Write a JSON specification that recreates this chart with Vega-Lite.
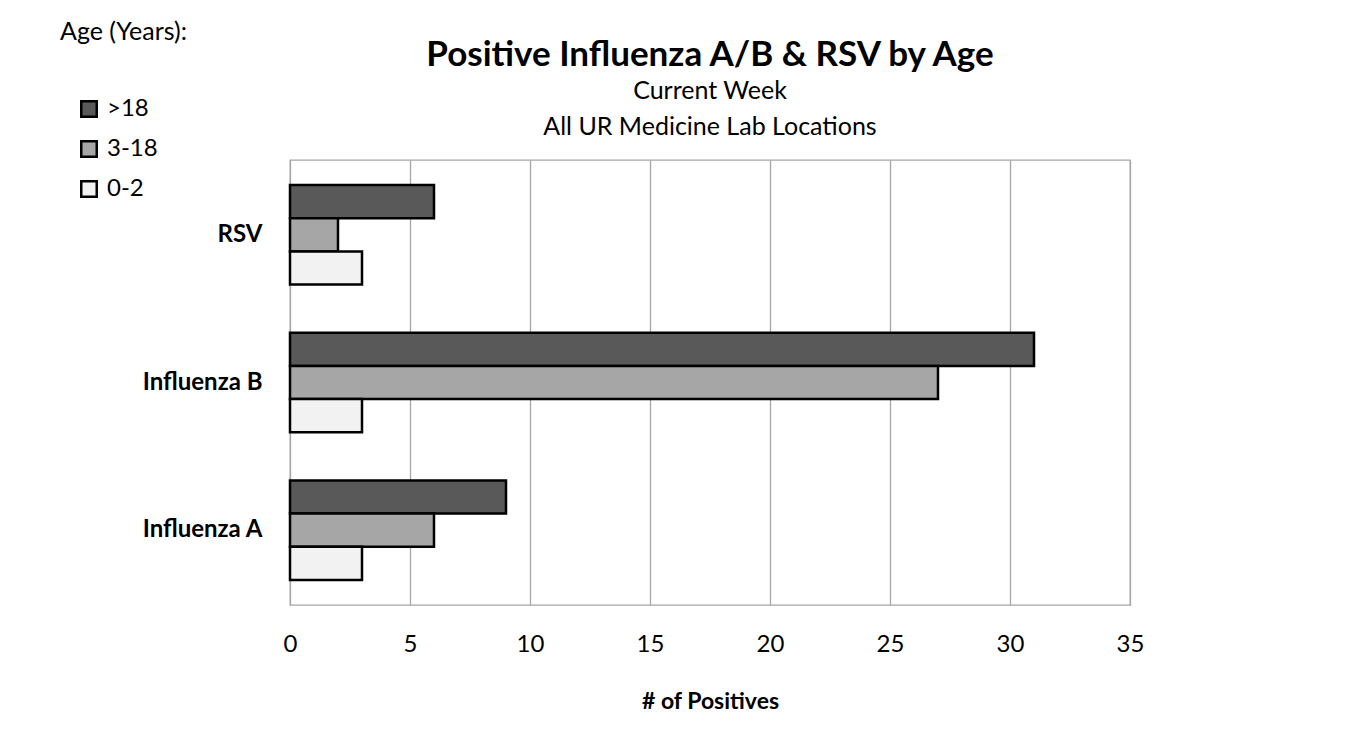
{
  "$schema": "https://vega.github.io/schema/vega-lite/v6.json",
  "autosize": "none",
  "width": 840,
  "height": 445,
  "padding": {"left": 290, "top": 160, "right": 223, "bottom": 144},
  "background": "white",
  "title": {
    "text": "Positive Influenza A/B & RSV by Age",
    "subtitle": ["Current Week", "All UR Medicine Lab  Locations"],
    "anchor": "middle",
    "frame": "group",
    "font": "Lato",
    "fontSize": 35,
    "fontWeight": "bold",
    "color": "black",
    "subtitleFont": "Lato",
    "subtitleFontSize": 25,
    "subtitleColor": "black",
    "subtitleLineHeight": 36,
    "subtitlePadding": 6,
    "offset": -120
  },
  "data": {
    "values": [
      {"Category": "RSV", "Age": ">18", "Positives": 6},
      {"Category": "RSV", "Age": "3-18", "Positives": 2},
      {"Category": "RSV", "Age": "0-2", "Positives": 3},
      {"Category": "Influenza B", "Age": ">18", "Positives": 31},
      {"Category": "Influenza B", "Age": "3-18", "Positives": 27},
      {"Category": "Influenza B", "Age": "0-2", "Positives": 3},
      {"Category": "Influenza A", "Age": ">18", "Positives": 9},
      {"Category": "Influenza A", "Age": "3-18", "Positives": 6},
      {"Category": "Influenza A", "Age": "0-2", "Positives": 3}
    ]
  },
  "mark": {"type": "bar", "stroke": "black", "strokeWidth": 2.5},
  "encoding": {
    "y": {
      "field": "Category",
      "type": "nominal",
      "sort": ["RSV", "Influenza B", "Influenza A"],
      "scale": {"paddingInner": 0.326, "paddingOuter": 0.17},
      "axis": {
        "title": null,
        "domain": false,
        "ticks": false,
        "labelFont": "Lato",
        "labelFontSize": 24,
        "labelFontWeight": "bold",
        "labelColor": "black",
        "labelPadding": 28
      }
    },
    "yOffset": {
      "field": "Age",
      "type": "nominal",
      "sort": [">18", "3-18", "0-2"],
      "scale": {"paddingInner": 0, "paddingOuter": 0}
    },
    "x": {
      "field": "Positives",
      "type": "quantitative",
      "scale": {"domain": [0, 35], "nice": false},
      "axis": {
        "title": "# of Positives",
        "values": [0, 5, 10, 15, 20, 25, 30, 35],
        "domain": false,
        "ticks": false,
        "grid": true,
        "gridColor": "#a6a6a6",
        "gridWidth": 1.3,
        "labelFlush": false,
        "labelFont": "Lato",
        "labelFontSize": 24,
        "labelColor": "black",
        "labelPadding": 27,
        "titleFont": "Lato",
        "titleFontSize": 23,
        "titleFontWeight": "bold",
        "titleColor": "black",
        "titlePadding": 34
      }
    },
    "color": {
      "field": "Age",
      "type": "nominal",
      "scale": {"domain": [">18", "3-18", "0-2"], "range": ["#595959", "#a6a6a6", "#f2f2f2"]},
      "legend": {
        "title": "Age (Years):",
        "orient": "none",
        "legendX": -230,
        "legendY": -140,
        "padding": 0,
        "titleFont": "Lato",
        "titleFontSize": 25,
        "titleFontWeight": "normal",
        "titleColor": "black",
        "titlePadding": 52,
        "labelFont": "Lato",
        "labelFontSize": 24,
        "labelColor": "black",
        "labelOffset": 6,
        "symbolType": "square",
        "symbolSize": 240,
        "symbolStrokeColor": "black",
        "symbolStrokeWidth": 2.5,
        "symbolOffset": 17,
        "rowPadding": 14
      }
    }
  },
  "config": {
    "view": {"stroke": "#a6a6a6", "strokeWidth": 1.3}
  }
}
